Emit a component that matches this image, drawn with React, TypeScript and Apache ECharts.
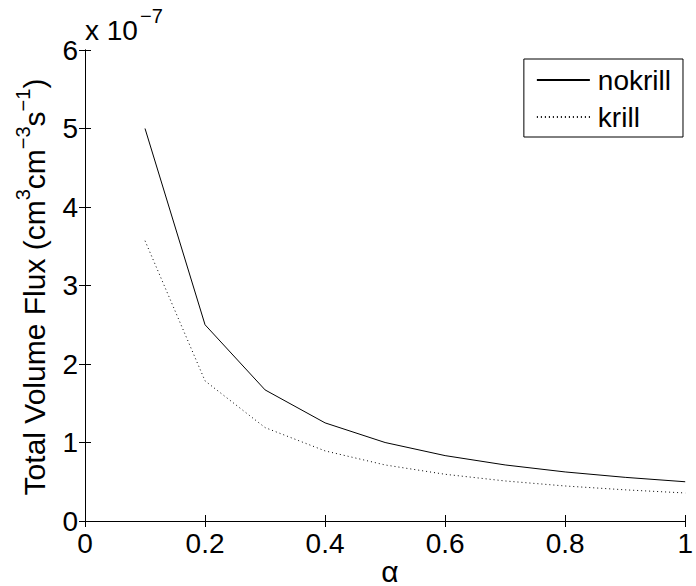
import React, { useEffect, useRef } from "react";
import * as echarts from "echarts";

// alpha values
const alphas = [0.1, 0.2, 0.3, 0.4, 0.5, 0.6, 0.7, 0.8, 0.9, 1.0];
// Total volume flux, in units of 1e-7 cm^3 cm^-3 s^-1
const nokrill = [5.0, 2.5, 1.67, 1.25, 1.0, 0.833, 0.714, 0.625, 0.556, 0.5];
const krill = [3.57, 1.785, 1.19, 0.893, 0.714, 0.595, 0.51, 0.446, 0.397, 0.357];
const xTicks = [0, 0.2, 0.4, 0.6, 0.8, 1];
const yTicks = [0, 1, 2, 3, 4, 5, 6];
const seriesNames = ["nokrill", "krill"];

const FONT = "Liberation Sans, Arial, Helvetica, sans-serif";
const TICK_FS = 28;
const LABEL_FS = 30;
const SUP_FS = 20;

export default function App() {
  const ref = useRef<HTMLDivElement>(null);
  useEffect(() => {
    document.body.style.margin = "0";
    const chart = echarts.init(ref.current!, null, { renderer: "svg" });
    const left = 85, top = 50, width = 607, height = 471;
    const axisCommon = {
      axisLine: { show: true, lineStyle: { color: "#000", width: 1 } },
      axisTick: { show: true, inside: true, length: 6, lineStyle: { color: "#000", width: 1 } },
      splitLine: { show: false },
    };
    chart.setOption({
      animation: false,
      backgroundColor: "#fff",
      textStyle: { fontFamily: FONT },
      grid: { left, top, width, height, containLabel: false },
      xAxis: [
        {
          type: "value",
          min: xTicks[0],
          max: xTicks[xTicks.length - 1],
          interval: 0.2,
          position: "bottom",
          ...axisCommon,
          axisLabel: {
            color: "#000",
            fontSize: TICK_FS,
            fontFamily: FONT,
            margin: 8,
            formatter: (v: number) => (xTicks.some((t) => Math.abs(t - v) < 1e-9) ? String(+v.toFixed(1)) : ""),
          },
        },
        {
          type: "value",
          min: xTicks[0],
          max: xTicks[xTicks.length - 1],
          interval: 0.2,
          position: "top",
          ...axisCommon,
          axisLabel: { show: false },
        },
      ],
      yAxis: [
        {
          type: "value",
          min: yTicks[0],
          max: yTicks[yTicks.length - 1],
          interval: 1,
          position: "left",
          ...axisCommon,
          axisLabel: { color: "#000", fontSize: TICK_FS, fontFamily: FONT, margin: 7 },
        },
        {
          type: "value",
          min: yTicks[0],
          max: yTicks[yTicks.length - 1],
          interval: 1,
          position: "right",
          ...axisCommon,
          axisLabel: { show: false },
        },
      ],
      legend: {
        orient: "vertical",
        right: 13,
        top: 59,
        data: seriesNames,
        backgroundColor: "#fff",
        borderColor: "#000",
        borderWidth: 1,
        borderRadius: 0,
        padding: [7, 12, 6, 12],
        itemGap: 9,
        itemWidth: 53,
        itemHeight: 28,
        itemStyle: { color: "rgba(0,0,0,0)", borderWidth: 0, opacity: 0 },
        textStyle: { color: "#000", fontSize: TICK_FS, fontFamily: FONT, padding: [0, 0, 0, 3] },
      },
      series: [
        {
          name: seriesNames[0],
          type: "line",
          data: alphas.map((a, i) => [a, nokrill[i]]),
          symbol: "none",
          lineStyle: { color: "#000", width: 1, type: "solid" },
          itemStyle: { color: "#000" },
        },
        {
          name: seriesNames[1],
          type: "line",
          data: alphas.map((a, i) => [a, krill[i]]),
          symbol: "none",
          lineStyle: { color: "#000", width: 1, type: [1, 3] },
          itemStyle: { color: "#000" },
        },
      ],
      graphic: [
        {
          type: "text",
          x: 85,
          y: 30,
          style: {
            text: "x 10",
            fontSize: TICK_FS,
            fontFamily: FONT,
            fill: "#000",
            align: "left",
            verticalAlign: "middle",
          },
        },
        {
          type: "text",
          x: 140,
          y: 16,
          style: {
            text: "−7",
            fontSize: SUP_FS,
            fontFamily: FONT,
            fill: "#000",
            align: "left",
            verticalAlign: "middle",
          },
        },
        {
          type: "text",
          x: 34,
          y: 287,
          rotation: Math.PI / 2,
          style: {
            text: "{n|Total Volume Flux (cm}{s|3}{n|cm}{s|−3}{n|s}{s|−1}{n|)}",
            align: "center",
            verticalAlign: "middle",
            rich: {
              n: { fontSize: LABEL_FS, fontFamily: FONT, fill: "#000", lineHeight: 43, verticalAlign: "middle" },
              s: { fontSize: SUP_FS, fontFamily: FONT, fill: "#000", lineHeight: 20, verticalAlign: "top" },
            },
          },
        },
        {
          type: "text",
          x: 390,
          y: 571,
          style: {
            text: "α",
            fontSize: LABEL_FS,
            fontFamily: FONT,
            fill: "#000",
            align: "center",
            verticalAlign: "middle",
          },
        },
      ],
    });
    return () => chart.dispose();
  }, []);
  return <div ref={ref} style={{ width: 696, height: 586 }} />;
}
